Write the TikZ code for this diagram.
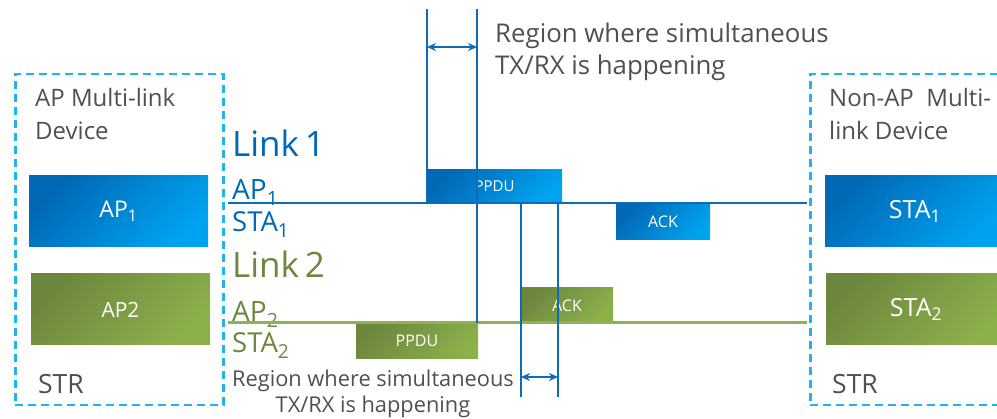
\documentclass[tikz,border=0pt]{standalone}
\usepackage{fontspec}
\setmainfont{Open Sans}
\usetikzlibrary{arrows.meta}
\definecolor{ibluedk}{HTML}{0068B5}
\definecolor{ibluelt}{HTML}{00A3F0}
\definecolor{igreendk}{HTML}{6E873E}
\definecolor{igreenlt}{HTML}{8CB04A}
\definecolor{iline}{HTML}{0B6CB9}
\definecolor{iglink}{HTML}{8DB356}
\definecolor{icyan}{HTML}{1DB5EA}
\definecolor{itext}{HTML}{505050}
\newcommand{\fs}[2]{\fontsize{#1}{#2}\selectfont}
\begin{document}
\begin{tikzpicture}[x=1pt,y=-1pt,
 mld/.style={draw=icyan,line width=2.5pt,dash pattern=on 8pt off 5pt,anchor=north west,minimum width=208pt,minimum height=331pt,inner sep=0pt},
 bbox/.style={top color=ibluedk,bottom color=ibluelt,shading angle=45,text=white,anchor=north west,inner sep=0pt,outer sep=0pt},
 gbox/.style={top color=igreendk,bottom color=igreenlt,shading angle=45,text=white,anchor=north west,inner sep=0pt,outer sep=0pt},
 lbl/.style={anchor=base west,inner sep=0pt,text=itext},
 tline/.style={iline,line width=2.5pt},
 rgn/.style={iline,line width=2pt,{Stealth[length=9pt,width=8pt]}-{Stealth[length=9pt,width=8pt]}}]
\useasboundingbox (0,0) rectangle (997,419);
\node[mld] (apmld) at (14,73) {};
\node[mld] (stamld) at (809,73) {};
\node[bbox,minimum width=179pt,minimum height=71pt,font=\fs{23}{28}] (apa) at (29,176) {AP\textsubscript{1}};
\node[gbox,minimum width=179pt,minimum height=71pt,font=\fs{21}{26}] (apb) at (31,274) {AP2};
\node[bbox,minimum width=180pt,minimum height=71pt,font=\fs{25}{30}] (staa) at (825,176) {STA\textsubscript{1}};
\node[gbox,minimum width=180pt,minimum height=71pt,font=\fs{25}{30}] (stab) at (826,274) {STA\textsubscript{2}};
\node[lbl,align=left,font=\fs{24}{33}] (apname) at (35,140) {AP Multi-link\\Device};
\node[lbl,font=\fs{26.5}{30}] (apstr) at (38,394) {STR};
\node[lbl,align=left,font=\fs{24}{33}] (staname) at (829,140) {Non-AP\ \ Multi-\\link Device};
\node[lbl,font=\fs{26.5}{30}] (stastr) at (832,394) {STR};
\node[lbl,text=ibluedk,font=\fs{35}{40}] (lka) at (232,157) {Link\,1};
\node[lbl,text=ibluedk,font=\fs{28}{34}] (apl) at (232,200) {AP\textsubscript{1}};
\node[lbl,text=ibluedk,font=\fs{27.5}{30}] (stal) at (232,232) {STA\textsubscript{1}};
\node[lbl,text=igreendk,font=\fs{35}{40}] (lkb) at (232,278) {Link\,2};
\node[lbl,text=igreendk,font=\fs{28}{34}] (apm) at (232,322) {AP\textsubscript{2}};
\node[lbl,text=igreendk,font=\fs{27.5}{30}] (stam) at (232,353) {STA\textsubscript{2}};
\node[bbox,minimum width=135pt,minimum height=33pt,font=\fs{15}{18}] (ppdua) at (427,170) {PPDU};
\node[bbox,minimum width=94pt,minimum height=36pt,font=\fs{16}{18}] (acka) at (616,204) {ACK};
\node[gbox,minimum width=92pt,minimum height=35pt,font=\fs{16}{18}] (ackb) at (521,288) {ACK};
\node[gbox,minimum width=122pt,minimum height=36pt,font=\fs{16}{18}] (ppdub) at (356,323) {PPDU};
\node[lbl,align=left,font=\fs{25.8}{32}] (rgntop) at (495,75) {Region where simultaneous\\TX/RX is happening};
\node[lbl,anchor=base,align=center,font=\fs{21.8}{26}] (rgnbot) at (373,413) {Region where simultaneous\\TX/RX is happening};
\coordinate (la0) at (228,203); \coordinate (la1) at (807,203);
\coordinate (lb0) at (228,323); \coordinate (lb1) at (807,323);
\coordinate (va) at (427,9); \coordinate (vb) at (477,9); \coordinate (vc) at (521,397); \coordinate (vd) at (558,397);
\coordinate (ra0) at (427,47); \coordinate (ra1) at (477,47); \coordinate (rb0) at (521,377); \coordinate (rb1) at (558,377);
\draw[tline] (la0)--(la1); \draw[tline,iglink,line width=3pt] (lb0)--(lb1);
\draw[tline] (va)--(ppdua.south west); \draw[tline] (vb)--(vb|-lb0); \draw[tline] (vc)--(vc|-la0); \draw[tline] (vd)--(vd|-la0);
\draw[rgn] (ra0)--(ra1); \draw[rgn] (rb0)--(rb1);
\end{tikzpicture}
\end{document}
